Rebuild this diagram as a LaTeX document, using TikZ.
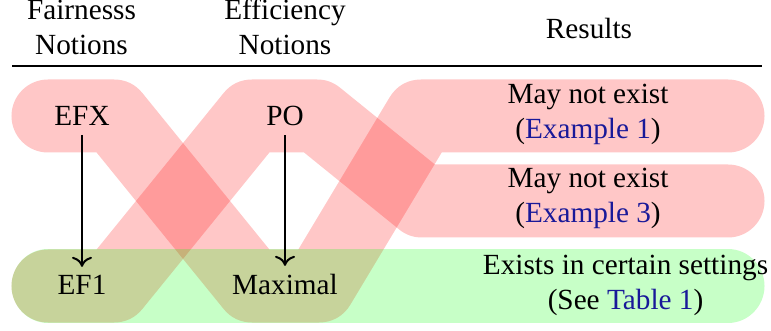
\documentclass[tikz,border=0pt]{standalone}
\usepackage{fontspec}
\setmainfont{Liberation Serif}
\usetikzlibrary{arrows.meta}
\definecolor{linkblue}{rgb}{0.1,0.1,0.6}
\begin{document}
\begin{tikzpicture}[x=0.4pt,y=-0.4pt,
  lbl/.style={font=\fontsize{11.7}{14}\selectfont, inner sep=0.3333em, anchor=base},
  band/.style={line width=29.2pt, line cap=round, line join=round, opacity=0.22},
  redband/.style={band, draw=red},
  greenband/.style={band, draw=green},
  imp/.style={line width=0.8pt, -{To[length=4pt,width=8pt]}}]
\useasboundingbox (0,0) rectangle (771,331);
% waypoints of the bands
\coordinate (a0) at (48,116);  \coordinate (a1) at (114,116);
\coordinate (a2) at (252,286); \coordinate (a3) at (319,286);
\coordinate (a4) at (421,116); \coordinate (a5) at (728,116);
\coordinate (b0) at (48,286);  \coordinate (b1) at (114,286);
\coordinate (b2) at (252,116); \coordinate (b3) at (317,116);
\coordinate (b4) at (422,201); \coordinate (b5) at (728,201);
\coordinate (c0) at (48,286);  \coordinate (c1) at (728,286);
\draw[redband] (a0) -- (a1) -- (a2) -- (a3) -- (a4) -- (a5);
\draw[redband] (b0) -- (b1) -- (b2) -- (b3) -- (b4) -- (b5);
\draw[greenband] (c0) -- (c1);
% header
\node[lbl, align=center] (h1) at (81.5,55) {Fairnesss\\Notions};
\node[lbl, align=center] (h2) at (285,55) {Efficiency\\Notions};
\node[lbl] (h3) at (589,38.5) {Results};
\coordinate (ruleL) at (12,66); \coordinate (ruleR) at (762,66);
\draw[line width=1pt] (ruleL) -- (ruleR);
% notions
\node[lbl] (EFX) at (82,126) {EFX};
\node[lbl] (PO) at (285,126) {PO};
\node[lbl] (EF1) at (82,295) {EF1};
\node[lbl] (MAX) at (285,295) {Maximal};
\draw[imp] (EFX.south) -- (EF1.north);
\draw[imp] (PO.south) -- (MAX.north);
% results
\node[lbl, align=center] (r1) at (588,139) {May not exist\\(\textcolor{linkblue}{Example 1})};
\node[lbl, align=center] (r2) at (588,223) {May not exist\\(\textcolor{linkblue}{Example 3})};
\node[lbl, align=center] (r3) at (625.5,310) {Exists in certain settings\\(See \textcolor{linkblue}{Table 1})};
\end{tikzpicture}
\end{document}
